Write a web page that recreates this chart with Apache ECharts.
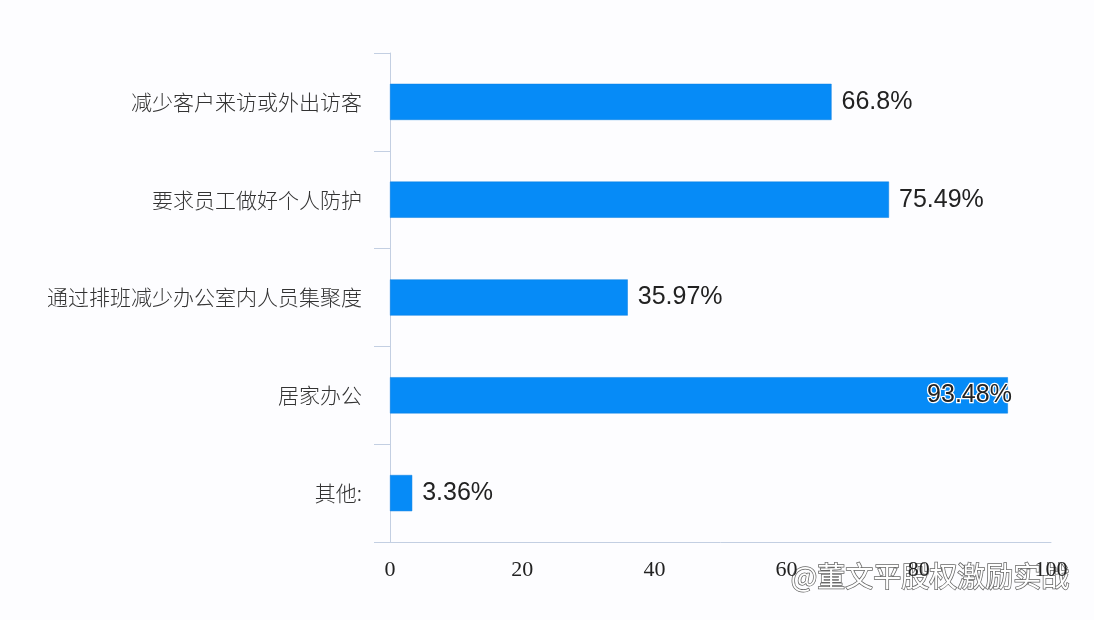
<!DOCTYPE html>
<html>
<head>
<meta charset="utf-8">
<script src="https://cdn.jsdelivr.net/npm/echarts@6/dist/echarts.min.js"></script>
<style>html,body{margin:0;padding:0;background:#fdfdff;}#c{width:1094px;height:620px;}</style>
</head>
<body>
<div id="c"></div>
<script>
const categories = ['减少客户来访或外出访客', '要求员工做好个人防护', '通过排班减少办公室内人员集聚度', '居家办公', '其他:'];
const values = [66.8, 75.49, 35.97, 93.48, 3.36];
const labels = ['66.8%', '75.49%', '35.97%', '93.48%', '3.36%'];
const xTicks = [0, 20, 40, 60, 80, 100];

const chart = echarts.init(document.getElementById('c'));
const data = values.map((v, i) => {
  const item = { value: v };
  if (i === 3) {
    item.label = { position: 'insideRight', offset: [14, 0], textBorderColor: '#fff', textBorderWidth: 2.5, color: '#222' };
  }
  return item;
});
chart.setOption({
  backgroundColor: '#fdfdff',
  animation: false,
  grid: { left: 390, right: 43, top: 53, bottom: 78 },
  xAxis: {
    type: 'value', min: 0, max: 100, interval: 20,
    axisLine: { show: true, lineStyle: { color: '#c3cfe2', width: 1 } },
    axisTick: { show: false },
    splitLine: { show: false },
    axisLabel: { color: '#222', fontSize: 22, fontFamily: 'Liberation Serif', margin: 17,
      formatter: v => xTicks.includes(v) ? String(v) : '' }
  },
  yAxis: {
    type: 'category', inverse: true, data: categories,
    axisLine: { show: true, lineStyle: { color: '#c3cfe2', width: 1 } },
    axisTick: { show: true, length: 16, lineStyle: { color: '#c3cfe2' } },
    axisLabel: { color: '#333', fontSize: 21, fontWeight: 300, fontFamily: 'Noto Sans CJK SC', margin: 28 }
  },
  series: [{
    type: 'bar', data: data, barWidth: '37%',
    itemStyle: { color: '#068bf7', borderColor: '#0a7fe0', borderWidth: 0.5 },
    label: { show: true, position: 'right', distance: 10, color: '#222', fontSize: 25, fontFamily: 'Liberation Sans',
      formatter: p => labels[p.dataIndex] }
  }],
  graphic: [{
    type: 'text', right: 24, top: 562,
    style: { text: '@董文平股权激励实战', fontSize: 28, fontFamily: 'Noto Sans CJK SC', fill: '#ffffff', stroke: '#666', lineWidth: 1.5 }
  }]
});
</script>
</body>
</html>
